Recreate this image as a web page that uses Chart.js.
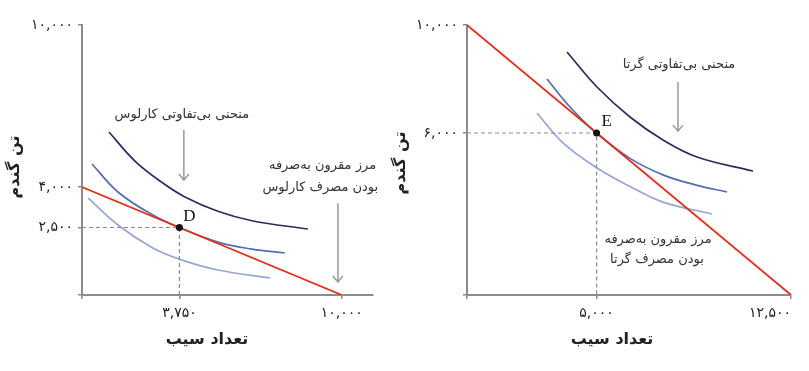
<!DOCTYPE html>
<html>
<head>
<meta charset="utf-8">
<script src="https://cdn.jsdelivr.net/npm/chart.js@4.4.1/dist/chart.umd.min.js"></script>
<style>
    body { margin: 0; background: #fff; width: 809px; height: 371px; overflow: hidden; position: relative; }
    canvas { position: absolute; top: 0; }
    #carlos { left: 0; }
    #greta { left: 380px; }
</style>
</head>
<body>
<canvas id="carlos" width="400" height="371"></canvas>
<canvas id="greta" width="429" height="371"></canvas>
<script>
// Carlos (left panel)
const carlosTicksX = [0, 3750, 10000];
const carlosTickLabelsX = ['', '۳,۷۵۰', '۱۰,۰۰۰'];
const carlosTicksY = [0, 2500, 4000, 10000];
const carlosTickLabelsY = ['', '۲,۵۰۰', '۴,۰۰۰', '۱۰,۰۰۰'];
const carlosBudget = [[0, 4000], [10000, 0]];
const carlosChoice = [3750, 2500];
const carlosLow = [[231, 3593], [1385, 2593], [2692, 1760], [3769, 1320], [5231, 926], [7231, 630]];
const carlosMid = [[385, 4852], [1385, 3815], [2692, 2980], [3750, 2500], [5231, 1960], [6538, 1700], [7808, 1556]];
const carlosHigh = [[1038, 6037], [2038, 4960], [3077, 4170], [3962, 3630], [5231, 3100], [6538, 2750], [8692, 2444]];

// Greta (right panel)
const gretaTicksX = [0, 5000, 12500];
const gretaTickLabelsX = ['', '۵,۰۰۰', '۱۲,۵۰۰\u2003\u2003\u2003'];
const gretaTicksY = [0, 6000, 10000];
const gretaTickLabelsY = ['', '۶,۰۰۰', '۱۰,۰۰۰'];
const gretaBudget = [[0, 10000], [12500, 0]];
const gretaChoice = [5000, 6000];
const gretaLow = [[2701, 6741], [3704, 5630], [5015, 4704], [6289, 4020], [7562, 3440], [9452, 3000]];
const gretaMid = [[3086, 8000], [3974, 6963], [5000, 6000], [6289, 5060], [7562, 4450], [8800, 4080], [10031, 3815]];
const gretaHigh = [[3858, 9000], [5015, 7704], [6289, 6593], [7562, 5741], [8873, 5111], [11034, 4593]];

const AXIS = '#8c8c8c';
const TEXT = '#333';
const FA = '"DejaVu Sans", sans-serif';

const pts = arr => arr.map(p => ({ x: p[0], y: p[1] }));

const notesPlugin = {
    id: 'notes',
    afterDatasetsDraw(chart, args, opts) {
        const { ctx } = chart;
        const sx = chart.scales.x, sy = chart.scales.y;
        ctx.save();

        // arrows
        ctx.strokeStyle = '#9a9a9a';
        ctx.lineWidth = 1.5;
        (opts.arrows || []).forEach(a => {
            const px = sx.getPixelForValue(a.x);
            const y1 = sy.getPixelForValue(a.from);
            const y2 = sy.getPixelForValue(a.to);
            ctx.beginPath();
            ctx.moveTo(px, y1);
            ctx.lineTo(px, y2);
            ctx.moveTo(px - 5, y2 - 6);
            ctx.lineTo(px, y2);
            ctx.lineTo(px + 5, y2 - 6);
            ctx.stroke();
        });

        // notes
        ctx.fillStyle = TEXT;
        ctx.font = '13px ' + FA;
        ctx.textBaseline = 'middle';
        (opts.texts || []).forEach(t => {
            ctx.textAlign = t.align || 'center';
            ctx.fillText(t.text, sx.getPixelForValue(t.x), sy.getPixelForValue(t.y));
        });
        ctx.textAlign = 'center';

        // point label
        if (opts.point) {
            ctx.font = '17px "Liberation Serif", serif';
            ctx.fillStyle = '#111';
            ctx.fillText(opts.point.text,
                sx.getPixelForValue(opts.point.x) + 10,
                sy.getPixelForValue(opts.point.y) - 11);
        }

        // axis titles
        ctx.fillStyle = '#222';
        ctx.font = 'bold 16px ' + FA;
        const tx = opts.titleX;
        ctx.fillText(tx.text, tx.x, tx.y);
        const ty = opts.titleY;
        ctx.translate(ty.x, ty.y);
        ctx.rotate(-Math.PI / 2);
        ctx.fillText(ty.text, 0, 0);
        ctx.restore();
    }
};

function axis(min, max, ticks, labels, size, isX) {
    return {
        type: 'linear',
        min: min,
        max: max,
        afterBuildTicks: a => { a.ticks = ticks.map(v => ({ value: v })); },
        afterFit: a => {
            if (isX) a.height = size; else a.width = size;
            a.paddingLeft = a.paddingRight = a.paddingTop = a.paddingBottom = 0;
        },
        ticks: {
            callback: v => labels[ticks.indexOf(v)],
            color: '#222',
            font: { family: FA, size: 14 },
            padding: isX ? 6 : 5,
            maxRotation: 0,
            autoSkip: false
        },
        grid: { drawOnChartArea: false, drawTicks: true, tickLength: 4, color: AXIS, lineWidth: 1.5 },
        border: { display: true, color: AXIS, width: 2 },
        title: { display: false }
    };
}

function curve(data, color) {
    return { data: pts(data), borderColor: color, borderWidth: 1.7, pointRadius: 0, tension: 0.4, fill: false };
}

function makeChart(id, d) {
    const guide = [{ x: 0, y: d.choice[1] }, { x: d.choice[0], y: d.choice[1] }, { x: d.choice[0], y: 0 }];
    return new Chart(document.getElementById(id), {
        type: 'line',
        data: {
            datasets: [
                { data: [{ x: d.choice[0], y: d.choice[1] }], pointRadius: 3.5, pointBackgroundColor: '#111', pointBorderWidth: 0, showLine: false },
                { data: pts(d.budget), borderColor: '#e0301f', borderWidth: 1.8, pointRadius: 0 },
                { data: guide, borderColor: '#8a8a8a', borderWidth: 1.2, borderDash: [4, 3], pointRadius: 0, tension: 0 },
                curve(d.high, '#282e5c'),
                curve(d.mid, '#566cb0'),
                curve(d.low, '#97a6d2')
            ]
        },
        options: {
            responsive: false,
            animation: false,
            devicePixelRatio: 1,
            layout: { padding: { top: 25, right: d.padRight, left: 0, bottom: 0 } },
            plugins: {
                legend: { display: false },
                tooltip: { enabled: false },
                notes: d.notes
            },
            scales: {
                x: axis(0, d.maxX, d.ticksX, d.labelsX, 76, true),
                y: axis(0, 10000, d.ticksY, d.labelsY, d.yWidth, false)
            }
        },
        plugins: [notesPlugin]
    });
}

makeChart('carlos', {
    choice: carlosChoice, budget: carlosBudget,
    low: carlosLow, mid: carlosMid, high: carlosHigh,
    maxX: 11200, ticksX: carlosTicksX, labelsX: carlosTickLabelsX,
    ticksY: carlosTicksY, labelsY: carlosTickLabelsY,
    yWidth: 82, padRight: 27,
    notes: {
        arrows: [{ x: 3920, from: 6110, to: 4260 }, { x: 9850, from: 3400, to: 480 }],
        texts: [
            { text: 'منحنی بی‌تفاوتی کارلوس', x: 3846, y: 6667 },
            { text: 'مرز مقرون به‌صرفه', x: 11320, y: 4780, align: 'right' },
            { text: 'بودن مصرف کارلوس', x: 11400, y: 3960, align: 'right' }
        ],
        point: { text: 'D', x: carlosChoice[0], y: carlosChoice[1] },
        titleX: { text: 'تعداد سیب', x: 207, y: 340 },
        titleY: { text: 'تن گندم', x: 15, y: 167 }
    }
});

makeChart('greta', {
    choice: gretaChoice, budget: gretaBudget,
    low: gretaLow, mid: gretaMid, high: gretaHigh,
    maxX: 12500, ticksX: gretaTicksX, labelsX: gretaTickLabelsX,
    ticksY: gretaTicksY, labelsY: gretaTickLabelsY,
    yWidth: 87, padRight: 18,
    notes: {
        arrows: [{ x: 8140, from: 7890, to: 6070 }],
        texts: [
            { text: 'منحنی بی‌تفاوتی گرتا', x: 8180, y: 8520 },
            { text: 'مرز مقرون به‌صرفه', x: 7370, y: 2040 },
            { text: 'بودن مصرف گرتا', x: 7330, y: 1300 }
        ],
        point: { text: 'E', x: gretaChoice[0], y: gretaChoice[1] },
        titleX: { text: 'تعداد سیب', x: 232, y: 340 },
        titleY: { text: 'تن گندم', x: 21, y: 163 }
    }
});
</script>
</body>
</html>
